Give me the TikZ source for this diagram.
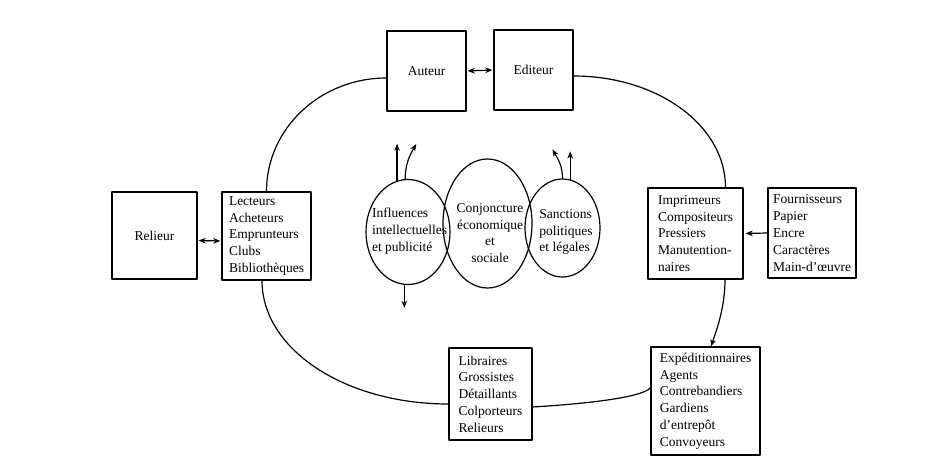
\documentclass[tikz,border=0pt]{standalone}
\usepackage{fontspec}
\setmainfont{Liberation Serif}
\usetikzlibrary{shapes.geometric, arrows.meta}
\tikzset{
	boite/.style={draw, align=left, inner sep=3pt, font=\fontsize{13.5}{16.8}\selectfont},
	bulle/.style={draw, ellipse, inner sep=0pt},
	texte/.style={align=left, inner sep=0pt, font=\fontsize{13.5}{16.8}\selectfont}
}
\begin{document}
\begin{tikzpicture}[x=1pt, y=1pt, line join=round, line cap=round, >={Stealth[length=7pt, width=5.5pt, inset=2pt]}, line width=1.2pt]
			\useasboundingbox (0,0) rectangle (927,-476);
			% les boites
			\node[boite, minimum width=79pt, minimum height=80pt] (auteur) at (426.5,-71) {Auteur};
			\node[boite, minimum width=79pt, minimum height=80pt] (editeur) at (533.5,-70) {Editeur};
			\node[boite, minimum width=85pt, minimum height=87pt] (relieur) at (154.5,-235.5) {Relieur};
			\node[boite, minimum width=89pt, minimum height=88pt] (lecteurs) at (266.5,-236)
			{Lecteurs\\Acheteurs\\Emprunteurs\\Clubs\\Biblioth\`eques};
			\node[boite, minimum width=95pt, minimum height=91pt] (imprimeurs) at (695.5,-233.5)
			{Imprimeurs\\Compositeurs\\Pressiers\\Manutention-\\naires};
			\node[boite, minimum width=88pt, minimum height=90pt] (fournisseurs) at (812,-233)
			{Fournisseurs\\Papier\\Encre\\Caract\`eres\\Main-d'\oe uvre};
			\node[boite, minimum width=83pt, minimum height=92pt] (libraires) at (490.5,-394)
			{Libraires\\Grossistes\\D\'etaillants\\Colporteurs\\Relieurs};
			\node[boite, minimum width=109pt, minimum height=108pt] (expedition) at (705.5,-401)
			{Exp\'editionnaires\\Agents\\Contrebandiers\\Gardiens\\d'entrep\^ot\\Convoyeurs};
			% les bulles
			\node[bulle, minimum width=84pt, minimum height=105pt] (influences) at (408,-232) {};
			\node[bulle, minimum width=89pt, minimum height=129pt] (conjoncture) at (487.5,-223.5) {};
			\node[bulle, minimum width=75pt, minimum height=98pt] (sanctions) at (562.5,-228) {};
			\node[texte] (influencest) at (409.5,-231) {Influences\\intellectuelles\\et publicit\'e};
			\node[texte, align=center] (conjoncturet) at (490,-233) {Conjoncture\\\'economique\\et\\sociale};
			\node[texte] (sanctionst) at (566,-232) {Sanctions\\politiques\\et l\'egales};
			% le circuit
			\draw ([yshift=-7pt]auteur.west) .. controls +(-66,0) and +(0,63) .. (lecteurs.north);
			\draw ([yshift=-6pt]editeur.east) .. controls +(84,0) and +(0,62) .. ([xshift=30pt]imprimeurs.north);
			\draw ([xshift=-4.5pt]lecteurs.south) .. controls +(0,-69) and +(-103,0) .. ([yshift=-10pt]libraires.west);
			\draw ([yshift=-13pt]libraires.east) .. controls +(50,3) and +(-10,-10) .. ([yshift=13pt]expedition.west);
			\draw[->] ([xshift=29.5pt]imprimeurs.south) .. controls +(0,-30) and +(4,12) .. ([xshift=5.5pt]expedition.north);
			\draw[<->, shorten <=1pt, shorten >=1pt] (auteur.east) -- (editeur.west);
			\draw[<->, shorten <=1pt, shorten >=1pt] ([yshift=-5pt]relieur.east) -- ([yshift=-5pt]lecteurs.west);
			\draw[->, shorten >=2pt] (fournisseurs.west) -- (imprimeurs.east);
			% les fleches des bulles
			\draw[->] (influences.102) -- ++(0,37);
			\draw[->] (influences.93) to[out=90, in=-120] ++(11,35);
			\draw[->] (influences.266) -- ++(0,-23);
			\draw[->] (sanctions.90) to[out=90, in=-60] ++(-10,29);
			\draw[->] (sanctions.81) -- ++(0,28);
		\end{tikzpicture}
\end{document}
